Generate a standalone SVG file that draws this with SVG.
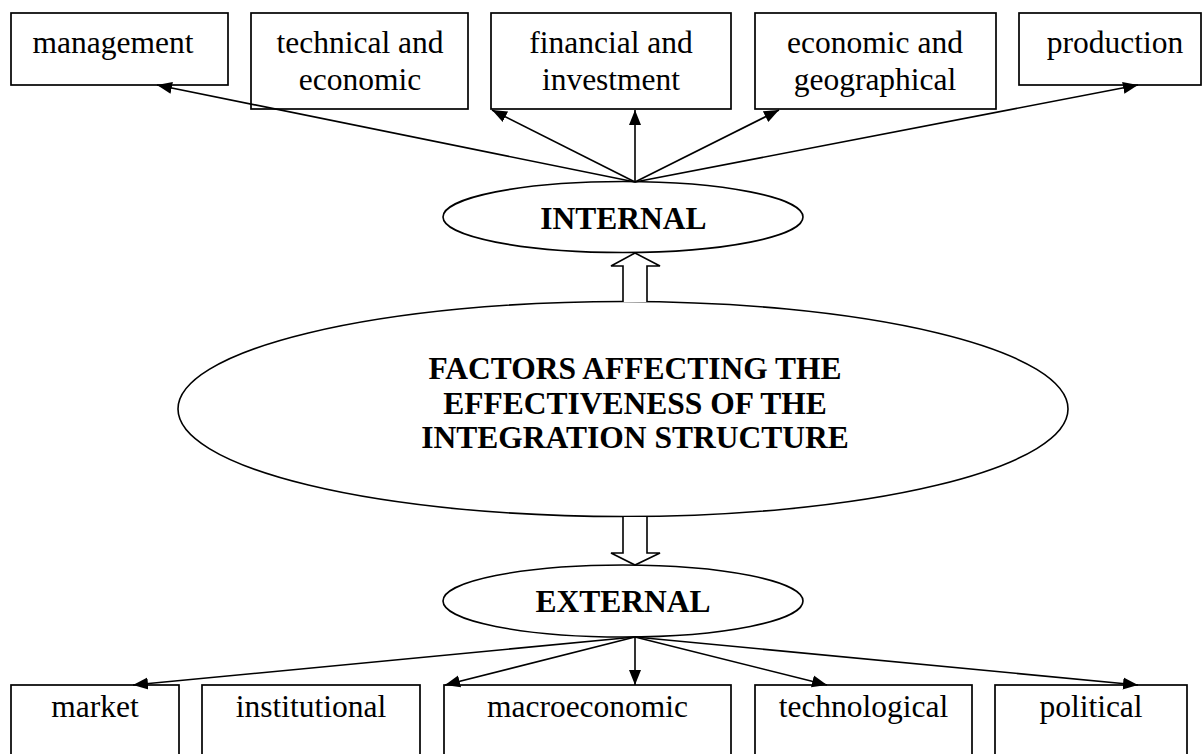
<svg xmlns="http://www.w3.org/2000/svg" width="1203" height="754" viewBox="0 0 1203 754">
  <style>
    .box { fill: #ffffff; stroke: #000000; stroke-width: 1.7; }
    .oval { fill: #ffffff; stroke: #000000; stroke-width: 1.6; }
    .label { font-family: "Liberation Serif", "Times New Roman", serif; font-size: 31.5px; fill: #000000; text-anchor: middle; }
    .head { font-family: "Liberation Serif", "Times New Roman", serif; font-size: 31.5px; font-weight: bold; fill: #000000; text-anchor: middle; }
    .link { fill: none; stroke: #000000; stroke-width: 1.6; }
    .hollow { fill: #ffffff; stroke: #000000; stroke-width: 1.6; stroke-linejoin: miter; }
  </style>
  <defs>
    <marker id="tip" markerUnits="userSpaceOnUse" markerWidth="17" markerHeight="14" refX="15" refY="7" orient="auto">
      <path d="M0,1 L15,7 L0,13 Z" fill="#000000"/>
    </marker>
  </defs>

  <rect width="1203" height="754" fill="#ffffff"/>

  <!-- internal factor boxes -->
  <g id="management">
    <rect class="box" x="11" y="13" width="217" height="72"/>
    <text class="label" x="113" y="53">management</text>
  </g>
  <g id="technical-economic">
    <rect class="box" x="251" y="13" width="217" height="96"/>
    <text class="label" x="360" y="53">technical and</text>
    <text class="label" x="360" y="90">economic</text>
  </g>
  <g id="financial-investment">
    <rect class="box" x="491" y="13" width="240" height="96"/>
    <text class="label" x="611" y="53">financial and</text>
    <text class="label" x="611" y="90">investment</text>
  </g>
  <g id="economic-geographical">
    <rect class="box" x="755" y="13" width="241" height="96"/>
    <text class="label" x="875" y="53">economic and</text>
    <text class="label" x="875" y="90">geographical</text>
  </g>
  <g id="production">
    <rect class="box" x="1019" y="13" width="182" height="72"/>
    <text class="label" x="1115" y="53">production</text>
  </g>

  <!-- central ovals -->
  <g id="internal">
    <ellipse class="oval" cx="623" cy="217" rx="180" ry="35.5"/>
    <text class="head" x="623.5" y="229">INTERNAL</text>
  </g>
  <g id="factors">
    <ellipse class="oval" cx="623" cy="409" rx="445" ry="107.5"/>
    <text class="head" x="635" y="379">FACTORS AFFECTING THE</text>
    <text class="head" x="635" y="414">EFFECTIVENESS OF THE</text>
    <text class="head" x="635" y="448">INTEGRATION STRUCTURE</text>
  </g>
  <g id="external">
    <ellipse class="oval" cx="623" cy="601" rx="180" ry="36"/>
    <text class="head" x="623" y="612">EXTERNAL</text>
  </g>

  <!-- external factor boxes (open at the page bottom) -->
  <g id="market">
    <rect class="box" x="11" y="685" width="168" height="80"/>
    <text class="label" x="95" y="717">market</text>
  </g>
  <g id="institutional">
    <rect class="box" x="202" y="685" width="218" height="80"/>
    <text class="label" x="311" y="717">institutional</text>
  </g>
  <g id="macroeconomic">
    <rect class="box" x="444" y="685" width="287" height="80"/>
    <text class="label" x="587.5" y="717">macroeconomic</text>
  </g>
  <g id="technological">
    <rect class="box" x="755" y="685" width="217" height="80"/>
    <text class="label" x="863.5" y="717">technological</text>
  </g>
  <g id="political">
    <rect class="box" x="995" y="685" width="192" height="80"/>
    <text class="label" x="1091" y="717">political</text>
  </g>

  <!-- connectors -->
  <g id="connectors">
    <line class="link" x1="635" y1="182" x2="157" y2="85" marker-end="url(#tip)"/>
    <line class="link" x1="635" y1="182" x2="492" y2="110" marker-end="url(#tip)"/>
    <line class="link" x1="635" y1="182" x2="635" y2="110" marker-end="url(#tip)"/>
    <line class="link" x1="635" y1="182" x2="779" y2="110" marker-end="url(#tip)"/>
    <line class="link" x1="635" y1="182" x2="1138" y2="85" marker-end="url(#tip)"/>

    <path class="hollow" d="M623,302 L623,266 L611,266 L635,253 L660,266 L647,266 L647,302"/>
    <path class="hollow" d="M623,517 L623,553 L611,553 L635,565 L660,553 L647,553 L647,517"/>

    <line class="link" x1="635" y1="637" x2="133" y2="685" marker-end="url(#tip)"/>
    <line class="link" x1="635" y1="637" x2="445" y2="685" marker-end="url(#tip)"/>
    <line class="link" x1="635" y1="637" x2="635" y2="685" marker-end="url(#tip)"/>
    <line class="link" x1="635" y1="637" x2="827" y2="685" marker-end="url(#tip)"/>
    <line class="link" x1="635" y1="637" x2="1138" y2="685" marker-end="url(#tip)"/>
  </g>
</svg>
